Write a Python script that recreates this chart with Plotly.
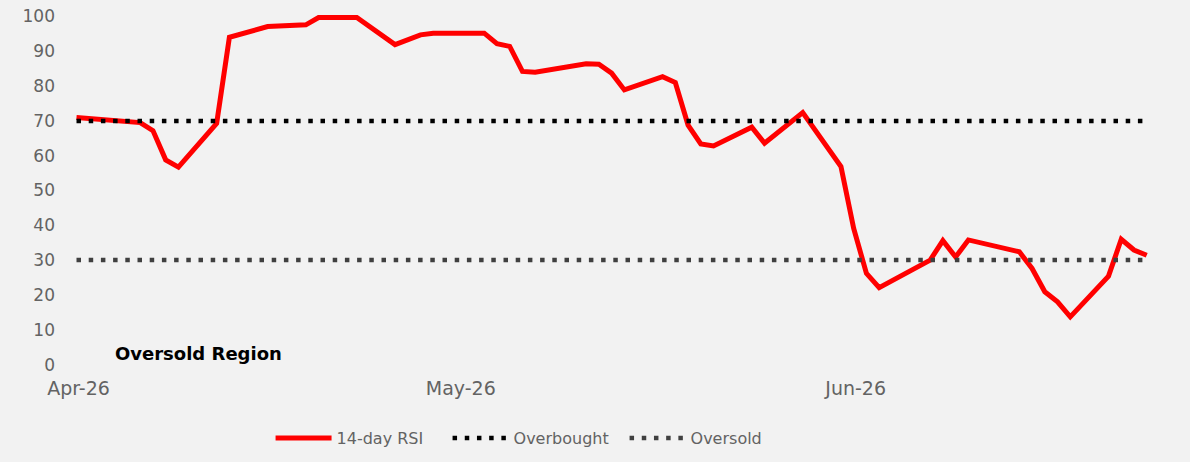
import plotly.graph_objects as go

# ---- data ----
dates = [
    "2026-04-01", "2026-04-06", "2026-04-07", "2026-04-08", "2026-04-09", "2026-04-12",
    "2026-04-13", "2026-04-16", "2026-04-19", "2026-04-20", "2026-04-23", "2026-04-26",
    "2026-04-28", "2026-04-29", "2026-05-03", "2026-05-04", "2026-05-05", "2026-05-06",
    "2026-05-07", "2026-05-11", "2026-05-12", "2026-05-13", "2026-05-14", "2026-05-17",
    "2026-05-18", "2026-05-19", "2026-05-20", "2026-05-21", "2026-05-24", "2026-05-25",
    "2026-05-28", "2026-05-31", "2026-06-01", "2026-06-02", "2026-06-03", "2026-06-07",
    "2026-06-08", "2026-06-09", "2026-06-10", "2026-06-14", "2026-06-15", "2026-06-16",
    "2026-06-17", "2026-06-18", "2026-06-21", "2026-06-22", "2026-06-23", "2026-06-24",
]
rsi_14 = [
    71.0, 69.5, 67.2, 58.8, 56.7, 69.3,
    94.0, 97.1, 97.6, 99.7, 99.7, 91.9,
    94.7, 95.2, 95.2, 92.2, 91.4, 84.2,
    84.0, 86.4, 86.3, 83.7, 78.9, 82.7,
    81.0, 68.8, 63.4, 62.8, 68.2, 63.6,
    72.4, 56.9, 39.1, 26.2, 22.1, 30.0,
    35.6, 30.9, 35.8, 32.4, 27.6, 20.9,
    18.0, 13.7, 25.4, 36.0, 32.9, 31.4,
]
overbought_level = 70
oversold_level = 30
x_tick_dates = ["2026-04-01", "2026-05-01", "2026-06-01"]
x_tick_labels = ["Apr-26", "May-26", "Jun-26"]
y_ticks = [0, 10, 20, 30, 40, 50, 60, 70, 80, 90, 100]

FONT = "DejaVu Sans"
GREY = "#636363"
BG = "#f2f2f2"

fig = go.Figure()
fig.add_trace(go.Scatter(
    x=dates, y=rsi_14, mode="lines", name="14-day RSI",
    line=dict(color="#ff0000", width=5),
))
fig.add_trace(go.Scatter(
    x=[dates[0], dates[-1]], y=[overbought_level, overbought_level],
    mode="lines", name="Overbought",
    line=dict(color="#000000", width=4.5, dash="4.5px,7.7px"),
))
fig.add_trace(go.Scatter(
    x=[dates[0], dates[-1]], y=[oversold_level, oversold_level],
    mode="lines", name="Oversold",
    line=dict(color="#404040", width=4.5, dash="4.5px,7.7px"),
))

fig.add_annotation(
    text="<b>Oversold Region</b>", xref="paper", yref="paper",
    x=0.0394, y=0.0596, xanchor="left", yanchor="middle", showarrow=False,
    font=dict(family=FONT, size=18, color="#000000"),
)

fig.update_layout(
    width=1190, height=462,
    paper_bgcolor=BG, plot_bgcolor=BG,
    margin=dict(l=70, r=30, t=6, b=87),
    showlegend=True,
    legend=dict(
        orientation="h", x=0.184, xanchor="left",
        y=0.052, yref="container", yanchor="middle",
        font=dict(family=FONT, size=16, color=GREY),
        itemwidth=56, bgcolor="rgba(0,0,0,0)",
        entrywidth=106, entrywidthmode="pixels",
    ),
    xaxis=dict(
        type="date",
        range=["2026-03-31 11:45", "2026-06-25 01:00"],
        tickvals=x_tick_dates, ticktext=x_tick_labels,
        showgrid=False, zeroline=False, showline=False, ticks="",
        tickfont=dict(family=FONT, size=19, color=GREY),
        ticklabelshift=2,
    ),
    yaxis=dict(
        range=[-3, 103], tickvals=y_ticks,
        showgrid=False, zeroline=False, showline=False, ticks="",
        tickfont=dict(family=FONT, size=17, color=GREY),
        ticklabelstandoff=14,
    ),
)

fig.write_html(
    "out.html",
    config={"displayModeBar": False},
    post_script="document.body.style.margin='0';document.body.style.overflow='hidden';",
)
